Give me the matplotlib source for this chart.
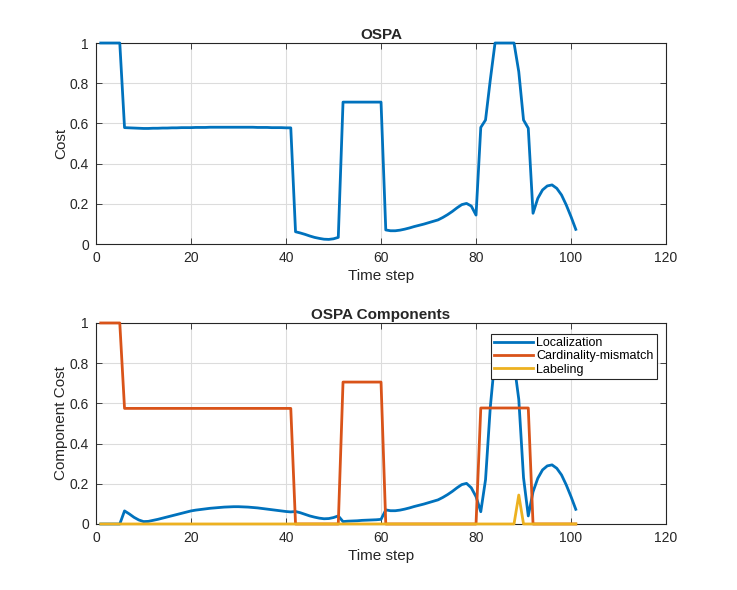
import numpy as np
import matplotlib
matplotlib.use('Agg')
import matplotlib.pyplot as plt

plt.rcParams['font.family'] = ['Liberation Sans', 'DejaVu Sans']

# time steps 1..101
time_step = np.arange(1, 102)

# OSPA total cost
ospa = [
    1.0, 1.0, 1.0, 1.0, 1.0,                                   # 1-5
    0.579, 0.578, 0.577, 0.576, 0.575,                         # 6-10
    0.575, 0.576, 0.576, 0.577, 0.577,                         # 11-15
    0.578, 0.578, 0.579, 0.579, 0.579,                         # 16-20
    0.580, 0.580, 0.580, 0.581, 0.581,                         # 21-25
    0.581, 0.581, 0.581, 0.581, 0.581,                         # 26-30
    0.581, 0.581, 0.581, 0.580, 0.580,                         # 31-35
    0.580, 0.579, 0.579, 0.579, 0.578,                         # 36-40
    0.578,                                                     # 41
    0.061, 0.055, 0.048, 0.040, 0.033,                         # 42-46
    0.028, 0.024, 0.023, 0.026, 0.033,                         # 47-51
    0.706, 0.706, 0.706, 0.706, 0.706,                         # 52-56
    0.706, 0.706, 0.706, 0.706,                                # 57-60
    0.070, 0.066, 0.066, 0.069, 0.074,                         # 61-65
    0.080, 0.087, 0.093, 0.099, 0.106,                         # 66-70
    0.113, 0.120, 0.132, 0.146, 0.162,                         # 71-75
    0.180, 0.196, 0.202, 0.189, 0.144,                         # 76-80
    0.580, 0.617, 0.816, 1.0, 1.0,                             # 81-85
    1.0, 1.0, 1.0, 0.857, 0.617,                               # 86-90
    0.576, 0.153, 0.227, 0.269, 0.289,                         # 91-95
    0.294, 0.277, 0.244, 0.194, 0.136,                         # 96-100
    0.073,                                                     # 101
]

# localization component (bottom panel)
localization = [
    0.0, 0.0, 0.0, 0.0, 0.0,                                   # 1-5
    0.065, 0.050, 0.033, 0.020, 0.012,                         # 6-10
    0.013, 0.018, 0.023, 0.029, 0.035,                         # 11-15
    0.041, 0.047, 0.053, 0.059, 0.065,                         # 16-20
    0.069, 0.072, 0.075, 0.078, 0.080,                         # 21-25
    0.082, 0.084, 0.085, 0.086, 0.086,                         # 26-30
    0.085, 0.084, 0.082, 0.080, 0.077,                         # 31-35
    0.074, 0.071, 0.068, 0.065, 0.062,                         # 36-40
    0.060,                                                     # 41
    0.062, 0.056, 0.048, 0.040, 0.034,                         # 42-46
    0.029, 0.026, 0.027, 0.032, 0.040,                         # 47-51
    0.012, 0.014, 0.015, 0.016, 0.018,                         # 52-56
    0.019, 0.020, 0.021, 0.023,                                # 57-60
    0.070, 0.066, 0.066, 0.069, 0.074,                         # 61-65
    0.080, 0.087, 0.093, 0.099, 0.106,                         # 66-70
    0.113, 0.120, 0.132, 0.146, 0.162,                         # 71-75
    0.180, 0.196, 0.202, 0.180, 0.136,                         # 76-80
    0.061, 0.220, 0.580, 0.830, 0.900,                         # 81-85
    0.920, 0.890, 0.800, 0.620, 0.230,                         # 86-90
    0.040, 0.160, 0.227, 0.269, 0.289,                         # 91-95
    0.294, 0.277, 0.244, 0.194, 0.136,                         # 96-100
    0.073,                                                     # 101
]

# cardinality-mismatch component
cardinality = (
    [1.0] * 5 + [0.575] * 36 + [0.0] * 10 + [0.706] * 9
    + [0.0] * 20 + [0.577] * 11 + [0.0] * 10
)

# labeling component
labeling = [0.0] * 88 + [0.144] + [0.0] * 12

series_names = ['Localization', 'Cardinality-mismatch', 'Labeling']
colors = ['#0072BD', '#D95319', '#EDB120']

fig = plt.figure(figsize=(7.37, 5.90), dpi=100)
ax1 = fig.add_axes([0.1303, 0.5864, 0.7734, 0.3407])
ax2 = fig.add_axes([0.1303, 0.1119, 0.7734, 0.3407])


def style_axes(ax):
    ax.set_xlim(0, 120)
    ax.set_ylim(0, 1)
    ax.set_xticks(np.arange(0, 121, 20))
    ax.set_yticks([0, 0.2, 0.4, 0.6, 0.8, 1.0])
    ax.set_yticklabels(['0', '0.2', '0.4', '0.6', '0.8', '1'])
    ax.grid(True, color='#dcdcdc', linewidth=0.8)
    ax.set_axisbelow(True)
    ax.tick_params(direction='in', top=True, right=True, labelsize=10,
                   colors='#262626', length=4, width=0.6, pad=5)
    for sp in ax.spines.values():
        sp.set_color('#262626')
        sp.set_linewidth(0.8)
    ax.set_xlabel('Time step', fontsize=11, color='#262626', labelpad=3)


# lines drawn over the axes box, like the original
ax1.plot(time_step, ospa, color=colors[0], linewidth=2, zorder=3, clip_on=False)
style_axes(ax1)
ax1.set_ylabel('Cost', fontsize=11, color='#262626', labelpad=1)
ax1.set_title('OSPA', fontsize=11, fontweight='bold', color='#262626', pad=3)

ax2.plot(time_step, localization, color=colors[0], linewidth=2, label=series_names[0],
         zorder=3, clip_on=False)
ax2.plot(time_step, cardinality, color=colors[1], linewidth=2, label=series_names[1],
         zorder=3, clip_on=False)
ax2.plot(time_step, labeling, color=colors[2], linewidth=2, label=series_names[2],
         zorder=3, clip_on=False)
style_axes(ax2)
ax2.set_ylabel('Component Cost', fontsize=11, color='#262626', labelpad=1)
ax2.set_title('OSPA Components', fontsize=11, fontweight='bold', color='#262626', pad=3)

leg = ax2.legend(loc='upper right', bbox_to_anchor=(0.984, 0.945), borderaxespad=0,
                 fontsize=9, frameon=True, fancybox=False, framealpha=1,
                 edgecolor='#262626', handlelength=3.1, handletextpad=0.3,
                 labelspacing=0.1, borderpad=0.25)
leg.get_frame().set_linewidth(0.8)
leg.set_zorder(10)

fig.savefig('out.png', dpi=100)
plt.close(fig)
